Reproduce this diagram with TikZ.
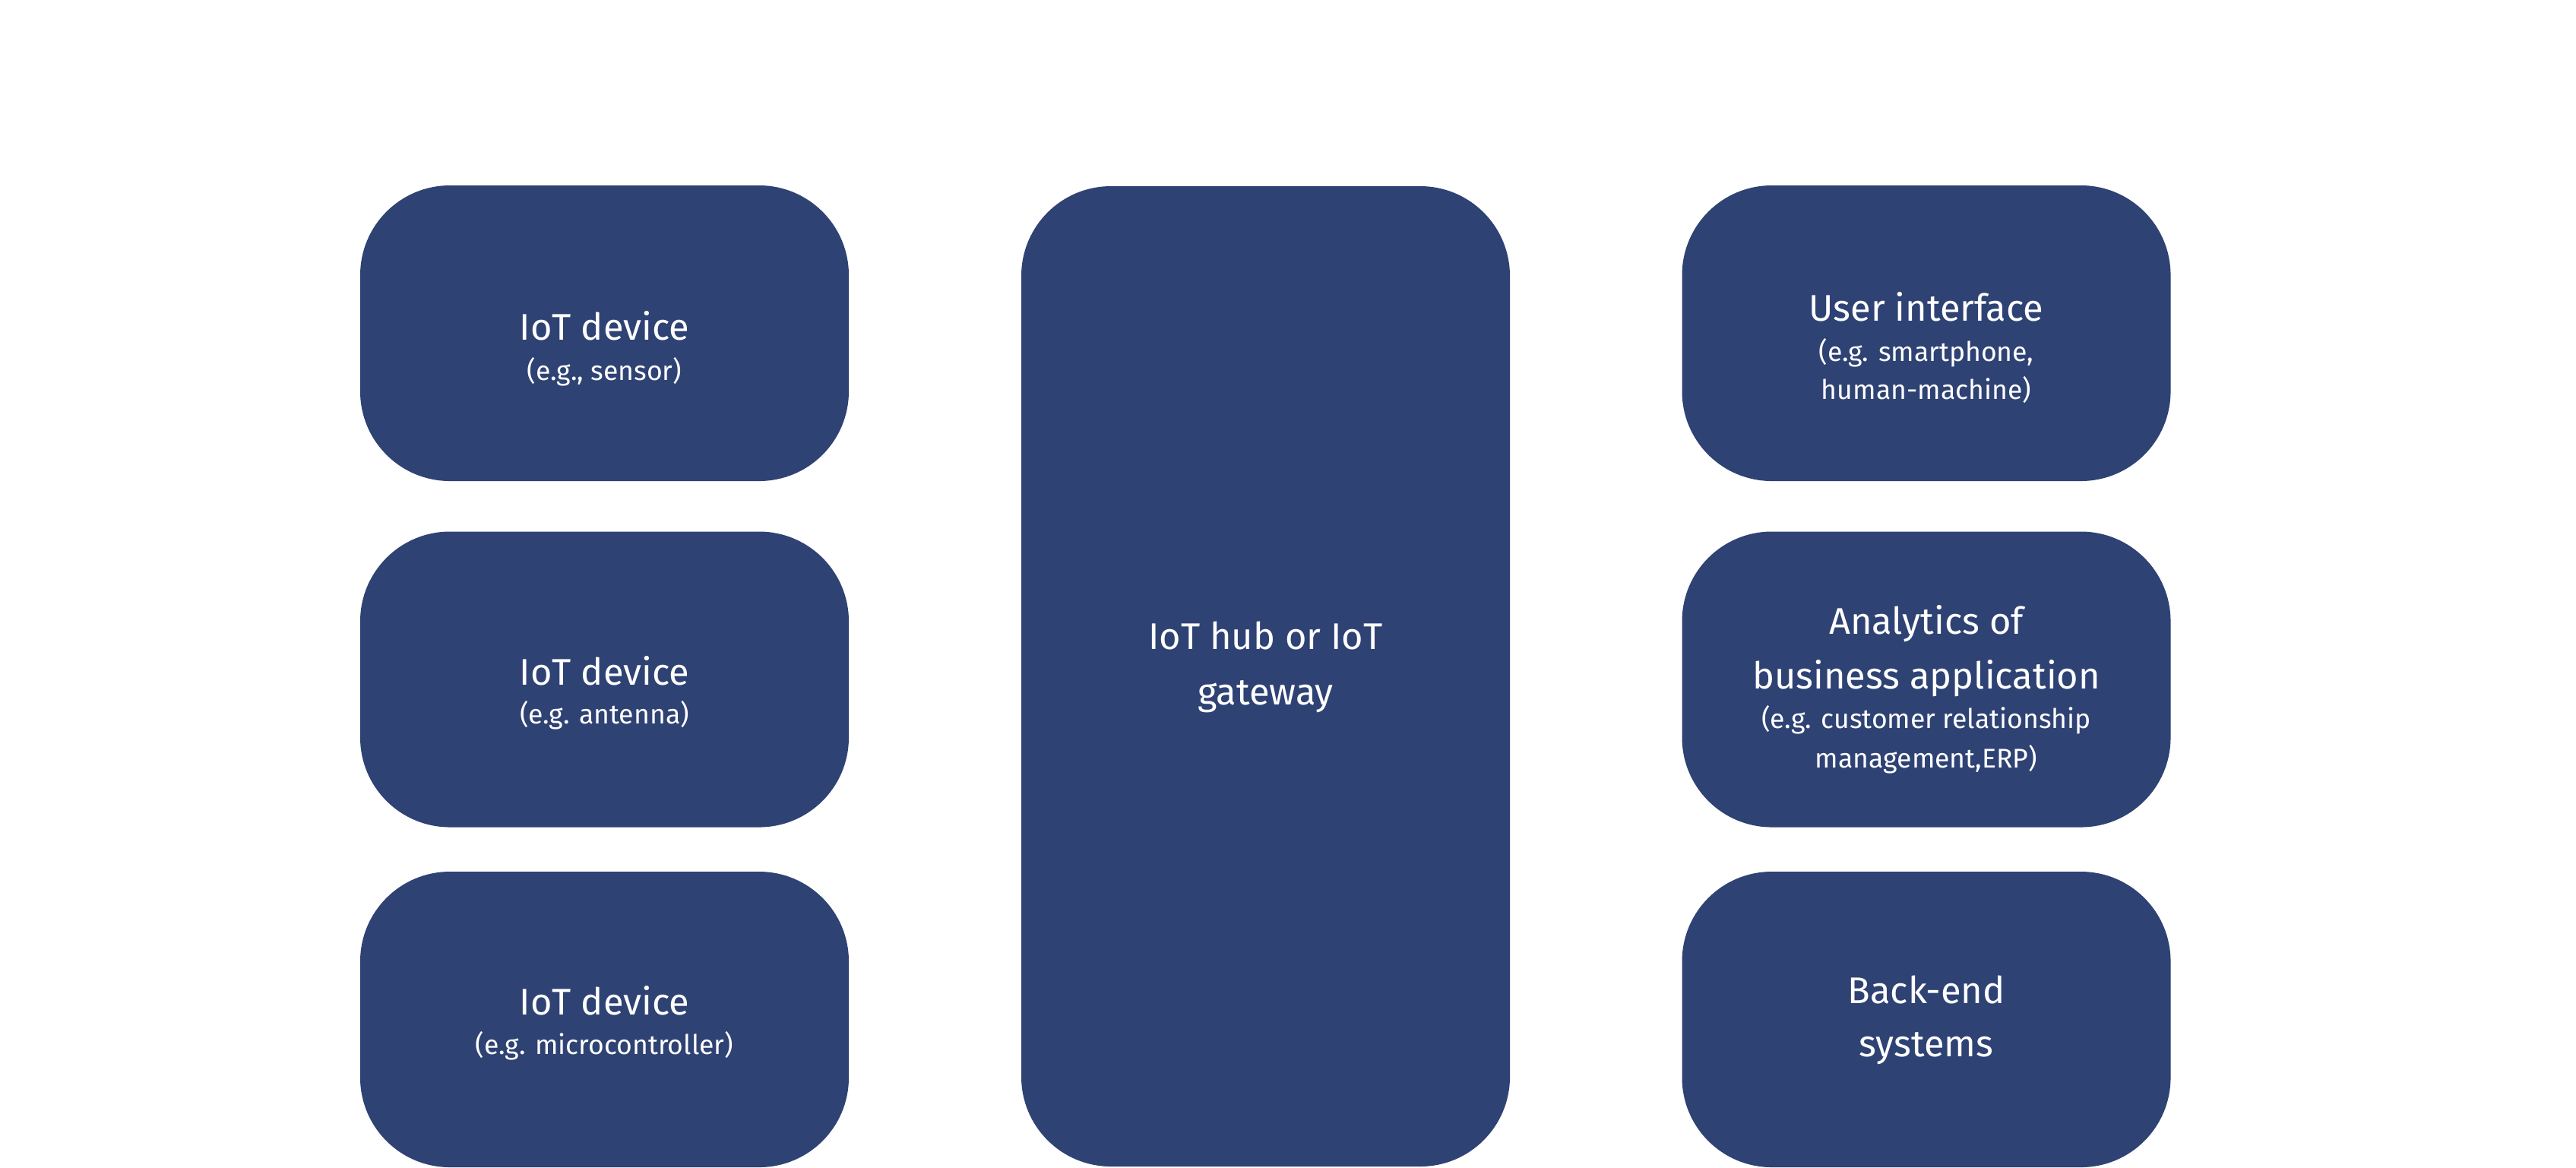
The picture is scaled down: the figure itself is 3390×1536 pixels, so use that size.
\documentclass[tikz,border=0pt]{standalone}
\usepackage{fontspec}
\setmainfont{Fira Sans}
\definecolor{boxblue}{RGB}{47,66,116}
\tikzset{
  box/.style={rectangle, fill=boxblue, draw=none, rounded corners=29.5pt,
    minimum width=160.75pt, minimum height=97.25pt, inner sep=0pt},
  tallbox/.style={box, minimum height=322.5pt},
  ttl/.style={anchor=base, text=white, inner sep=0pt, font=\fontsize{12.2}{14}\selectfont},
  sub/.style={anchor=base, text=white, inner sep=0pt, font=\fontsize{8.9}{11}\selectfont},
}
\begin{document}
\begin{tikzpicture}[x=0.25pt,y=-0.25pt]
\useasboundingbox (0,0) rectangle (3390,1536);
% boxes
\node[box] (l1) at (795.5,438.5) {};
\node[box] (l2) at (795.5,894) {};
\node[box] (l3) at (795.5,1341.5) {};
\node[tallbox] (m) at (1665.5,890) {};
\node[box] (r1) at (2535,438.5) {};
\node[box] (r2) at (2535,894) {};
\node[box] (r3) at (2535,1341.5) {};
% texts
\node[ttl] (l1t) at (795.5,447) {IoT device};
\node[sub] (l1s) at (795.5,500) {(e.g., sensor)};
\node[ttl] (l2t) at (795.5,901) {IoT device};
\node[sub] (l2s) at (795.5,952) {(e.g. antenna)};
\node[ttl] (l3t) at (795.5,1335) {IoT device};
\node[sub] (l3s) at (795.5,1387) {(e.g. microcontroller)};
\node[ttl] (mt1) at (1665.5,854) {IoT hub or IoT};
\node[ttl] (mt2) at (1665.5,927) {gateway};
\node[ttl] (r1t) at (2535,422) {User interface};
\node[sub] (r1s1) at (2535,475) {(e.g. smartphone,};
\node[sub] (r1s2) at (2535,525) {human-machine)};
\node[ttl] (r2t1) at (2535,834) {Analytics of};
\node[ttl] (r2t2) at (2535,906) {business application};
\node[sub] (r2s1) at (2535,958) {(e.g. customer relationship};
\node[sub] (r2s2) at (2535,1010) {management,ERP)};
\node[ttl] (r3t1) at (2535,1320) {Back-end};
\node[ttl] (r3t2) at (2535,1390) {systems};
\end{tikzpicture}
\end{document}
